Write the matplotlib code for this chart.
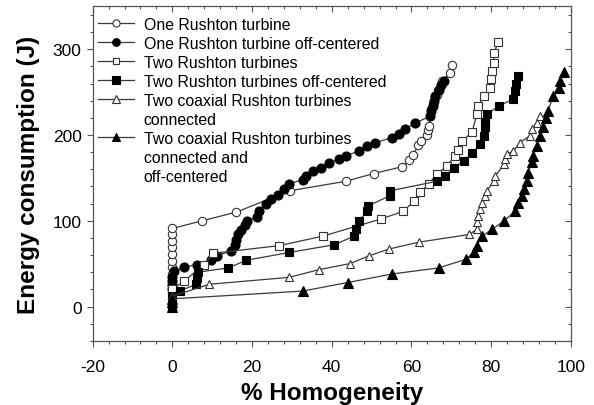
import matplotlib
matplotlib.use("Agg")
import matplotlib.pyplot as plt
from matplotlib.ticker import MultipleLocator
from matplotlib.lines import Line2D

plt.rcParams['font.family'] = ['Liberation Sans', 'DejaVu Sans']
plt.rcParams['axes.unicode_minus'] = False

labels = [
    "One Rushton turbine",
    "One Rushton turbine off-centered",
    "Two Rushton turbines",
    "Two Rushton turbines off-centered",
    "Two coaxial Rushton turbines\nconnected",
    "Two coaxial Rushton turbines\nconnected and\noff-centered",
]

s1_x = [0, 0, 0, 0, 0, 0, 0, 0, 7.5, 16, 29.5, 43.5, 50.5, 57.7, 59.5, 60.5, 61.7, 62.5,
        63.8, 64.2, 64.4, 65, 65.4, 66.3, 66.7, 67.7, 69.6, 70.3]
s1_y = [38, 46, 53, 61, 69, 76, 84, 91, 100, 110, 135, 146, 155, 163, 171, 177, 188, 193,
        200, 206, 211, 230, 236, 247, 253, 263, 272, 281]

s2_x = [0, 0, 0, 0, 0.5, 3, 6.3, 9.7, 11.2, 14.8, 15.6, 16, 16.4, 17.2, 18.3, 18.7, 21.2,
        21.8, 23.5, 24.8, 26.4, 28, 29.3, 32.7, 33.5, 35.2, 37.2, 39.3, 41.8, 43.5, 46.8,
        48.9, 50.9, 55.2, 56.8, 58.5, 61, 64.7, 65, 65.3, 65.6, 66, 66.8, 67.5, 68.2]
s2_y = [20, 25, 30, 35, 41, 46, 49, 54, 59, 65, 72, 78, 85, 89, 95, 100, 104,
        111, 120, 125, 130, 137, 143, 148, 152, 158, 162, 167, 172, 176, 181,
        187, 191, 197, 201, 207, 214, 222, 228, 234, 240, 246, 253, 258, 263]

s3_x = [0, 3, 8, 10.2, 26.8, 37.7, 52.3, 58, 60.6, 62.2, 64.3, 66.4, 68.9, 71, 71.8, 72.7,
        75.2, 76.4, 76.8, 78.1, 79.7, 80, 80.3, 80.6, 80.8, 81.7]
s3_y = [20, 30, 49, 62, 71, 82, 102, 111, 123, 133, 143, 154, 164, 176, 183, 193,
        203, 224, 234, 245, 255, 265, 275, 284, 296, 308]

s4_x = [0, 0, 0, 1.8, 6, 6.2, 6.4, 14, 18.6, 29.3, 40.6, 45.6, 46, 46.8, 48.9, 49, 54.5,
        54.7, 66.4, 68.5, 70.8, 73.1, 75.3, 77.2, 78.3, 78.4, 78.5, 78.9, 82, 85.6, 86,
        86.3, 86.8]
s4_y = [0, 6, 12, 18, 26, 33, 40, 45, 54, 63, 72, 82, 90, 100, 111, 117, 129,
        135, 146, 152, 162, 170, 179, 189, 199, 209, 215, 224, 234, 242, 251,
        259, 269]

s5_x = [0, 9.3, 29.3, 36.8, 44.5, 49.3, 54.3, 61.8, 74.5, 76.4, 76.5, 76.8, 77.2, 77.7,
        78.5, 79, 80.6, 81, 83.3, 83.6, 84, 85.6, 87.2, 89.7, 90.2, 91.4, 92.2]
s5_y = [12, 26, 34, 43, 50, 59, 67, 75, 84, 90, 98, 106, 114, 121,
        129, 135, 146, 152, 166, 172, 178, 181, 191, 199, 207, 214, 222]

s6_x = [0, 0, 0, 32.7, 44, 55.2, 66.8, 73.6, 75.6, 76.4, 77.7, 80.2, 83.3, 86, 86.8, 87.7,
        88.3, 88.9, 89.3, 90.2, 90.6, 91.4, 92.2, 93.1, 93.7, 94.2, 95.6, 97, 97.2, 98.3]
s6_y = [0, 5, 9, 18, 28, 38, 45, 55, 63, 71, 82, 90, 100, 111, 121, 129,
        137, 146, 156, 168, 176, 187, 199, 209, 220, 228, 245, 255, 263, 273]

series = [
    (s1_x, s1_y, 'o', 'white'),
    (s2_x, s2_y, 'o', 'black'),
    (s3_x, s3_y, 's', 'white'),
    (s4_x, s4_y, 's', 'black'),
    (s5_x, s5_y, '^', 'white'),
    (s6_x, s6_y, '^', 'black'),
]

fig = plt.figure(figsize=(5.94, 4.06), dpi=100)
ax = fig.add_axes([0.156, 0.158, 0.805, 0.824])

handles = []
leg_labels = []
blank = Line2D([], [], linestyle='none', marker=None)
for (xs, ys, m, fc), lab in zip(series, labels):
    ms = 6.5 if fc == 'black' else 6.0
    if m == 's':
        ms -= 0.5
    line, = ax.plot(xs, ys, color='#3a3a3a', lw=0.9, marker=m, ms=ms,
                    mfc=fc, mec='black' if fc == 'black' else '#333333', mew=0.8)
    parts = lab.split('\n')
    handles.append(line)
    leg_labels.append(parts[0])
    for p in parts[1:]:
        handles.append(blank)
        leg_labels.append(p)

ax.set_xlim(-20, 100)
ax.set_ylim(-40, 350)
ax.xaxis.set_major_locator(MultipleLocator(20))
ax.xaxis.set_minor_locator(MultipleLocator(4))
ax.yaxis.set_major_locator(MultipleLocator(100))
ax.yaxis.set_minor_locator(MultipleLocator(20))

for sp in ax.spines.values():
    sp.set_color('#555555')
    sp.set_linewidth(0.9)

ax.tick_params(which='both', direction='out', colors='#555555', labelcolor='black',
               labelsize=12.5, width=0.8)
ax.tick_params(which='major', length=4)
ax.tick_params(which='minor', length=2.5)
ax.tick_params(axis='x', pad=9)
ax.tick_params(axis='y', pad=4)

axt = ax.secondary_xaxis('top')
axt.xaxis.set_major_locator(MultipleLocator(20))
axt.xaxis.set_minor_locator(MultipleLocator(4))
axt.tick_params(which='both', direction='in', colors='#555555', labeltop=False, width=0.8)
axt.tick_params(which='major', length=4)
axt.tick_params(which='minor', length=2.5)
axt.spines['top'].set_visible(False)

axr = ax.secondary_yaxis('right')
axr.yaxis.set_major_locator(MultipleLocator(100))
axr.yaxis.set_minor_locator(MultipleLocator(20))
axr.tick_params(which='both', direction='in', colors='#555555', labelright=False, width=0.8)
axr.tick_params(which='major', length=4)
axr.tick_params(which='minor', length=2.5)
axr.spines['right'].set_visible(False)

ax.set_xlabel('% Homogeneity', fontsize=17.5, fontweight='bold', labelpad=5)
ax.set_ylabel('Energy consumption (J)', fontsize=17.5, fontweight='bold', labelpad=9)

leg = ax.legend(handles, leg_labels, loc='upper left', bbox_to_anchor=(-0.006, 0.992),
                frameon=False, fontsize=11.4, handlelength=2.3, handletextpad=0.6,
                labelspacing=0.25, borderaxespad=0.3, borderpad=0.2, markerscale=0.85)

fig.savefig('out.png', dpi=100, facecolor='white')
